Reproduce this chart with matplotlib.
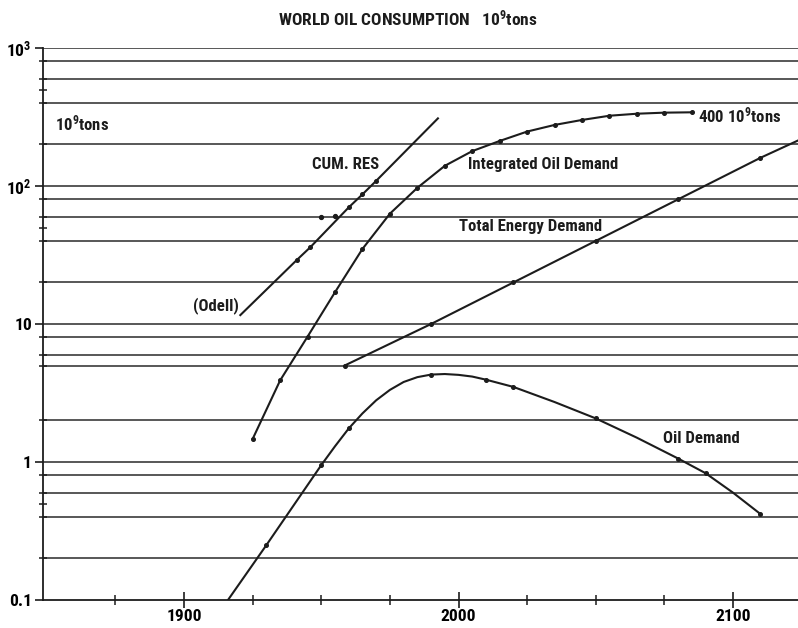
import matplotlib
matplotlib.use('Agg')
import matplotlib.pyplot as plt
from matplotlib import font_manager as fm
from matplotlib.ticker import FixedLocator, FixedFormatter, NullFormatter

# pick a narrow bold face if one is installed
entries = fm.fontManager.ttflist
names = {f.name for f in entries}
FAMILY, STRETCH = 'Roboto', 'normal'
for cand in ['Roboto Condensed', 'Liberation Sans Narrow', 'Open Sans Condensed']:
    if cand in names:
        FAMILY = cand
        break
else:
    if any(f.name == 'DejaVu Sans' and f.stretch == 'condensed' for f in entries):
        FAMILY, STRETCH = 'DejaVu Sans', 'condensed'

plt.rcParams['font.family'] = [FAMILY, 'DejaVu Sans']
plt.rcParams['font.stretch'] = STRETCH
plt.rcParams['font.weight'] = 'bold'
plt.rcParams['mathtext.default'] = 'regular'

INK = '#1c1c1c'

# Oil Demand (10^9 tons / year)
oil_years = [1916, 1930, 1950, 1955, 1960, 1965, 1970, 1975, 1980, 1985,
             1990, 1995, 2000, 2005, 2010, 2020, 2035, 2050, 2065, 2080,
             2090, 2100, 2110]
oil_vals = [0.1, 0.25, 0.95, 1.3, 1.75, 2.25, 2.8, 3.33, 3.8, 4.12,
            4.3, 4.34, 4.28, 4.16, 3.95, 3.5, 2.72, 2.07, 1.5, 1.06,
            0.83, 0.6, 0.42]
oil_dots = [1, 2, 4, 10, 14, 15, 17, 19, 20, 22]

# Integrated Oil Demand
int_years = [1925, 1935, 1945, 1955, 1965, 1975, 1985, 1995, 2005, 2015,
             2025, 2035, 2045, 2055, 2065, 2075, 2085]
int_vals = [1.47, 3.9, 8.1, 17, 35, 63, 97, 140, 179, 212,
            248, 277, 301, 323, 334, 340, 342]

# Total Energy Demand
energy_years = [1958.5, 1990, 2020, 2050, 2080, 2110, 2124]
energy_vals = [5, 10, 20, 40, 80, 160, 215]
energy_dots = [0, 1, 2, 3, 4, 5]

# Cumulative reserves (Odell)
odell_years = [1920.5, 1941, 1946, 1960, 1965, 1970, 1992.5]
odell_vals = [11.6, 29, 36, 70, 87, 109, 309]
odell_dots = [1, 2, 3, 4, 5]
odell_extra_years = [1950, 1955]
odell_extra_vals = [60, 61]

# horizontal rulings and ticks
grid_vals = [1000, 800, 600, 400, 200, 100, 80, 60, 40, 20,
             10, 8, 6, 5, 2, 1, 0.8, 0.6, 0.4, 0.2]
half_ticks = [500, 50, 0.5]
decades = [0.1, 1, 10, 100, 1000]
decade_labels = ['0.1', '1', '10', '$10^2$', '$10^3$']
x_major = [1900, 2000, 2100]
x_minor = [1875, 1925, 1950, 1975, 2025, 2050, 2075]

fig = plt.figure(figsize=(7.98, 6.28), dpi=100)

# size the lettering so "Integrated Oil Demand" is about as wide as in the scan
renderer = fig.canvas.get_renderer()
probe = fig.text(0, 0, 'Integrated Oil Demand', fontsize=10)
w = probe.get_window_extent(renderer).width
probe.remove()
FS = min(12.5, 10 * 150 / w)

ax = fig.add_axes([43 / 798, 28 / 628, 755 / 798, 552 / 628])
ax.set_yscale('log')
ax.set_xlim(1848.6, 2123.7)
ax.set_ylim(0.1, 1000)

for v in grid_vals:
    ax.axhline(v, color='#2a2a2a', lw=1.1, zorder=1)

ax.plot(oil_years, oil_vals, color=INK, lw=1.5, marker='o', ms=2.6,
        markevery=oil_dots, zorder=3)
ax.plot(int_years, int_vals, color=INK, lw=1.5, marker='o', ms=2.6, zorder=3)
ax.plot(energy_years, energy_vals, color=INK, lw=1.5, marker='o', ms=2.6,
        markevery=energy_dots, zorder=3)
ax.plot(odell_years, odell_vals, color=INK, lw=1.5, marker='o', ms=2.6,
        markevery=odell_dots, zorder=3)
ax.plot(odell_extra_years, odell_extra_vals, 'o', color=INK, ms=2.8, zorder=3)

for s in ['top', 'right']:
    ax.spines[s].set_visible(False)
for s in ['left', 'bottom']:
    ax.spines[s].set_linewidth(1.3)
    ax.spines[s].set_color(INK)

ax.yaxis.set_major_locator(FixedLocator(decades))
ax.yaxis.set_major_formatter(FixedFormatter(decade_labels))
ax.yaxis.set_minor_locator(FixedLocator(grid_vals + half_ticks))
ax.yaxis.set_minor_formatter(NullFormatter())
ax.tick_params(axis='y', which='major', direction='out', length=6, width=1.2,
               color=INK, labelsize=FS + 0.5, pad=2)
ax.tick_params(axis='y', which='minor', direction='inout', length=6, width=1.1,
               color=INK)

ax.xaxis.set_major_locator(FixedLocator(x_major))
ax.xaxis.set_minor_locator(FixedLocator(x_minor))
ax.xaxis.set_minor_formatter(NullFormatter())
ax.tick_params(axis='x', which='major', direction='inout', length=11, width=1.2,
               color=INK, labelsize=FS + 0.5, pad=1)
ax.tick_params(axis='x', which='minor', direction='inout', length=7, width=1.1,
               color=INK)

lab = dict(fontsize=FS, color=INK, va='center', ha='left')
ax.text(1853, 286, '10$^9$tons', **lab)
ax.text(1946.6, 142, 'CUM. RES', **lab)
ax.text(2003.5, 142, 'Integrated Oil Demand', **lab)
ax.text(2087.2, 327, '400 10$^9$tons', **lab)
ax.text(2000.2, 50.5, 'Total Energy Demand', **lab)
ax.text(1903.3, 13.5, '(Odell)', **lab)
ax.text(2074.5, 1.47, 'Oil Demand', **lab)

fig.text(0.511, 1 - 18 / 628, 'WORLD OIL CONSUMPTION   10$^9$tons',
         fontsize=FS * 1.04, color=INK, ha='center', va='center')

fig.savefig('out.png', dpi=100, facecolor='white')
